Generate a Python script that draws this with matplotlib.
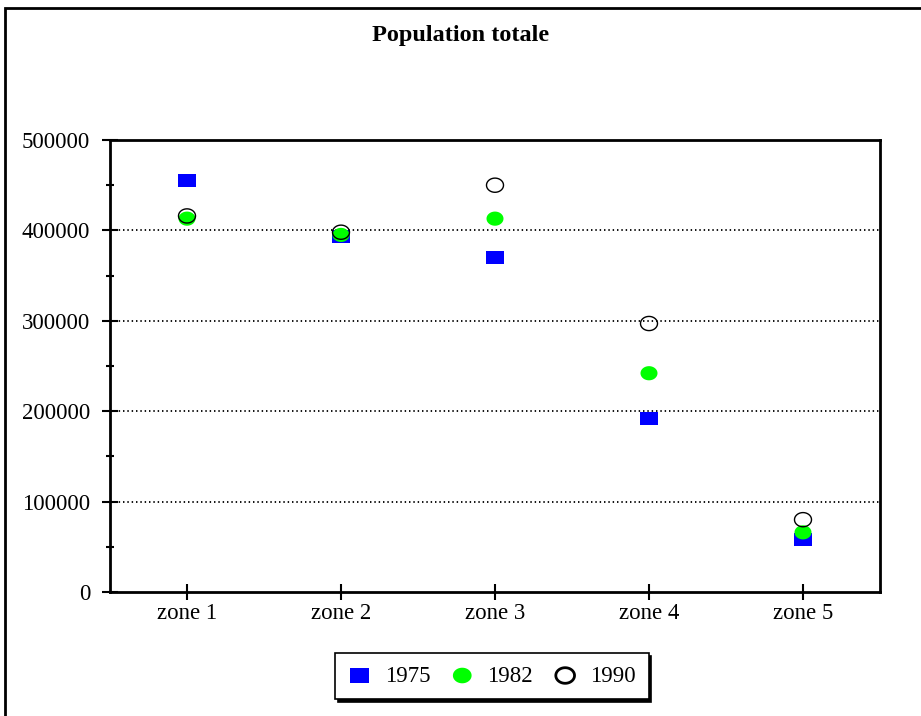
import matplotlib
matplotlib.use("Agg")
import matplotlib.pyplot as plt
import numpy as np
from matplotlib.path import Path
from matplotlib.patches import Rectangle
from matplotlib.ticker import MultipleLocator

zones = ["zone 1", "zone 2", "zone 3", "zone 4", "zone 5"]
pop_1975 = [455000, 393000, 370000, 192000, 58000]
pop_1982 = [413000, 395000, 413000, 242000, 66000]
pop_1990 = [416000, 398000, 450000, 297000, 80000]
yticks = [0, 100000, 200000, 300000, 400000, 500000]

plt.rcParams['font.family'] = ['Liberation Serif', 'DejaVu Serif']

# ellipse marker (wider than tall) and rectangle marker
t = np.linspace(0, 2 * np.pi, 60)
ell = Path(np.column_stack([1.2 * np.cos(t), np.sin(t)]), closed=True)
rect = Path([(-1.3, -1), (1.3, -1), (1.3, 1), (-1.3, 1), (-1.3, -1)], closed=True)

fig = plt.figure(figsize=(9.21, 7.16), dpi=100)
W, H = 921, 716
ax = fig.add_axes([110 / W, 1 - 592 / H, 770 / W, 452 / H])

x = np.arange(1, len(zones) + 1)
ax.scatter(x, pop_1975, marker=rect, s=150, color='#0000ff', edgecolors='none', zorder=3, label='1975')
ax.scatter(x, pop_1982, marker=ell, s=150, color='#00ff00', edgecolors='none', zorder=4, label='1982')
ax.scatter(x, pop_1990, marker=ell, s=150, facecolors='none', edgecolors='black', linewidths=1.0, zorder=5, label='1990')

ax.set_xlim(0.5, 5.5)
ax.set_ylim(0, 500000)
ax.set_xticks(x)
ax.set_xticklabels(zones, fontsize=16.5)
ax.set_yticks(yticks)
ax.set_yticklabels([str(v) for v in yticks], fontsize=16.5)
ax.yaxis.set_minor_locator(MultipleLocator(50000))
ax.tick_params(axis='x', which='major', direction='inout', length=11.5, width=1.5, pad=2)
ax.tick_params(axis='y', which='major', direction='inout', length=11.5, width=1.5, pad=8.5)
ax.tick_params(axis='y', which='minor', direction='inout', length=6, width=1.5)
for sp in ax.spines.values():
    sp.set_linewidth(2)

for v in yticks[1:-1]:
    ax.axhline(v, color='black', linestyle=(0, (0.8, 1.6)), linewidth=1.3, zorder=1)

fig.text(0.5, 1 - 36 / H, "Population totale", ha='center', va='center',
         fontsize=17.5, fontweight='bold')

leg = fig.legend(loc='center', bbox_to_anchor=(492 / W, 1 - 676 / H), ncol=3,
                 frameon=True, fancybox=False, shadow={'color': 'black', 'alpha': 1},
                 fontsize=16.5, handlelength=1.0, handletextpad=0.6,
                 columnspacing=0.9, borderpad=0.55, borderaxespad=0,
                 markerscale=1.1)
leg.get_frame().set_edgecolor('black')
leg.get_frame().set_linewidth(1.2)
leg.get_frame().set_alpha(1)
leg.legend_handles[2].set_linewidth(2)

fig.patches.append(Rectangle((5 / W, -0.1), 1.2, 1.1 - 8 / H, transform=fig.transFigure,
                             fill=False, edgecolor='black', linewidth=2, figure=fig))

fig.savefig("out.png", dpi=100)
